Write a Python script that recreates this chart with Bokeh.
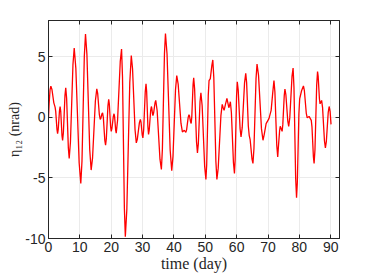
from bokeh.plotting import figure
from bokeh.models import FixedTicker, LinearAxis, Range1d
from bokeh.embed import file_html
from bokeh.resources import INLINE

days = [0.0, 0.2, 0.5, 0.75, 1.1, 1.7, 2.1, 2.3, 2.7, 2.9, 3.1, 3.5, 3.7, 3.9, 4.3, 4.5, 4.75,
        5.25, 5.5, 5.78, 6.33, 6.6, 7.0, 7.8, 8.2, 8.72, 9.78, 10.3, 10.68, 11.42, 11.8, 12.25,
        13.15, 13.6, 14.05, 14.95, 15.4, 15.68, 16.22, 16.5, 16.7, 17.05, 17.25, 17.49, 17.96,
        18.2, 18.45, 18.95, 19.2, 19.4, 19.8, 20.0, 20.22, 20.68, 20.9, 21.08, 21.42, 21.6,
        22.02, 22.88, 23.3, 23.6, 24.2, 24.5, 24.98, 25.92, 26.4, 26.8, 27.6, 28.0, 28.32,
        28.98, 29.3, 29.5, 29.9, 30.1, 30.35, 30.85, 31.1, 31.3, 31.7, 31.9, 32.12, 32.58,
        32.8, 32.92, 33.18, 33.3, 33.52, 33.98, 34.2, 34.65, 35.55, 36.0, 36.32, 36.98, 37.3,
        37.8, 38.8, 39.3, 39.7, 40.5, 40.9, 41.35, 42.25, 42.7, 43.3, 43.8, 44.05, 44.55, 44.8,
        44.98, 45.32, 45.5, 45.7, 46.1, 46.3, 46.6, 47.2, 47.5, 47.78, 48.32, 48.6, 49.0, 49.8,
        50.2, 50.45, 50.95, 51.2, 51.6, 52.1, 52.4, 52.72, 53.38, 53.7, 54.12, 54.98, 55.4,
        55.7, 56.0, 56.45, 56.9, 57.2, 57.5, 57.75, 58.0, 58.32, 58.98, 59.3, 59.52, 59.98,
        60.2, 60.5, 61.1, 61.4, 61.78, 62.52, 62.9, 63.18, 63.72, 64.0, 64.3, 64.9, 65.2,
        65.52, 66.18, 66.5, 66.98, 67.92, 68.4, 68.8, 69.4, 70.3, 71.0, 71.5, 71.9, 72.2, 72.8,
        73.1, 73.3, 73.7, 73.9, 74.5, 74.72, 75.18, 75.4, 75.7, 76.3, 76.6, 76.95, 77.65, 78.0,
        78.28, 78.82, 79.1, 79.35, 79.85, 80.1, 80.7, 81.3, 81.6, 82.2, 82.5, 83.1, 83.8,
        84.02, 84.48, 84.7, 84.98, 85.52, 85.8, 86.0, 86.4, 86.6, 87.1, 87.4, 88.0, 88.3,
        88.6, 89.2, 89.5, 89.8, 90.1]
eta = [0.0, 1.1, 2.3, 2.58, 2.3, 1.2, 0.85, 0.5, -1.0, -1.35, -1.0, 0.55, 0.9, 0.5, -1.5, -1.9,
       -1.25, 1.8, 2.45, 1.57, -2.52, -3.4, -2.03, 4.36, 5.73, 4.05, -3.77, -5.45, -3.6, 5.03,
       6.88, 5.2, -2.67, -4.35, -3.34, 1.35, 2.36, 1.98, 0.22, -0.16, -0.08, 0.3, 0.38, -0.02,
       -1.9, -2.3, -1.73, 0.93, 1.5, 1.1, -0.75, -1.15, -0.93, 0.08, 0.3, 0.06, -1.06, -1.3,
       -0.26, 4.6, 5.65, 3.33, -7.53, -9.85, -7.61, 2.86, 5.1, 4.02, -1.02, -2.1, -1.81,
       -0.45, -0.16, -0.39, -1.47, -1.7, -1.03, 2.1, 2.77, 2.14, -0.77, -1.4, -1.06, 0.56,
       0.9, 0.79, 0.27, 0.16, 0.35, 1.21, 1.4, 0.55, -3.45, -4.3, -2.62, 5.25, 6.93,
       5.23, -2.7, -4.4, -3.22, 2.27, 3.45, 2.75, -0.5, -1.2, -1.07, -1.23, -1.01, 0.0, 0.22,
       0.11, -0.39, -0.5, 0.06, 2.7, 3.26, 2.33, -2.0, -2.93, -2.19, 1.29, 2.03, 0.96, -4.05,
       -5.12, -3.9, 1.82, 3.04, 3.2, 4.3, 4.74, 3.26, -3.64, -5.12, -4.19, 0.14, 1.07,
       0.8, 0.58, 1.1, 1.56, 1.2, 0.8, 1.0, 1.29, 0.4, -3.74, -4.63, -3.5, 1.8,
       2.93, 2.25, -0.94, -1.62, -0.83, 2.85, 3.64, 2.87, -0.71, -1.48, -1.83, -3.45, -3.8,
       -2.57, 3.18, 4.41, 3.47, -0.95, -1.89, -1.4, -0.52, -0.1, 0.58, 2.0, 3.04, 2.1, -2.32,
       -3.26, -2.5, -1.1, -0.74, -1.15, -0.6, 1.8, 2.33, 1.87, -0.28, -0.74, -0.02, 3.36, 4.08,
       2.47, -5.02, -6.63, -5.4, 0.3, 1.53, 2.2, 2.6, 2.2, 0.36, -0.03, 0.08, -0.25,
       -0.78, -3.27, -3.8, -2.66, 2.64, 3.78, 3.38, 1.52, 1.12, 1.4, 0.81, -1.93, -2.52,
       -2.0, 0.39, 0.9, 0.5, -0.58]

x_ticks = [0, 10, 20, 30, 40, 50, 60, 70, 80, 90]
y_ticks = [-10, -5, 0, 5]
y_tick_labels = {-10: "-10", -5: "-5", 0: "0", 5: "5"}
x_label = "time (day)"
y_label = "\u03b7\u2081\u2082 (nrad)"

dark = "#262626"
grid = "#ebebeb"

p = figure(width=372, height=280, output_backend="svg", toolbar_location=None,
           x_range=Range1d(0, 92.8), y_range=Range1d(-10, 8),
           min_border_left=48, min_border_right=33, min_border_top=20, min_border_bottom=42,
           background_fill_color="white", border_fill_color="white")

p.line(days, eta, line_color="#ff0000", line_width=1.3)

p.outline_line_color = dark
p.outline_line_alpha = 1.0

for ax, ticks in ((p.xaxis[0], x_ticks), (p.yaxis[0], y_ticks)):
    ax.ticker = FixedTicker(ticks=ticks)
    ax.major_tick_in = 4
    ax.major_tick_out = 0
    ax.minor_tick_line_color = None
    ax.axis_line_color = dark
    ax.major_tick_line_color = dark
    ax.major_label_text_color = dark
    ax.major_label_text_font = "Liberation Sans"
    ax.major_label_text_font_size = "14px"
    ax.major_label_standoff = 3
    ax.axis_label_text_font = "Liberation Serif"
    ax.axis_label_text_font_style = "normal"
    ax.axis_label_text_color = dark
    ax.axis_label_standoff = 0

p.xaxis[0].axis_label = x_label
p.xaxis[0].axis_label_text_font_size = "16px"
p.yaxis[0].axis_label = y_label
p.yaxis[0].axis_label_text_font_size = "14px"
p.yaxis[0].major_label_overrides = y_tick_labels

for loc, ticks in (("above", x_ticks), ("right", y_ticks)):
    ax = LinearAxis(ticker=FixedTicker(ticks=ticks), major_tick_in=4, major_tick_out=0,
                    minor_tick_line_color=None, axis_line_color=dark,
                    major_tick_line_color=dark,
                    major_label_overrides={t: "" for t in ticks},
                    major_label_standoff=0)
    p.add_layout(ax, loc)

p.xgrid.ticker = FixedTicker(ticks=x_ticks)
p.ygrid.ticker = FixedTicker(ticks=y_ticks)
p.xgrid.grid_line_color = grid
p.ygrid.grid_line_color = grid
p.xgrid.grid_line_width = 1
p.ygrid.grid_line_width = 1

open("out.html", "w").write(file_html(p, INLINE))
